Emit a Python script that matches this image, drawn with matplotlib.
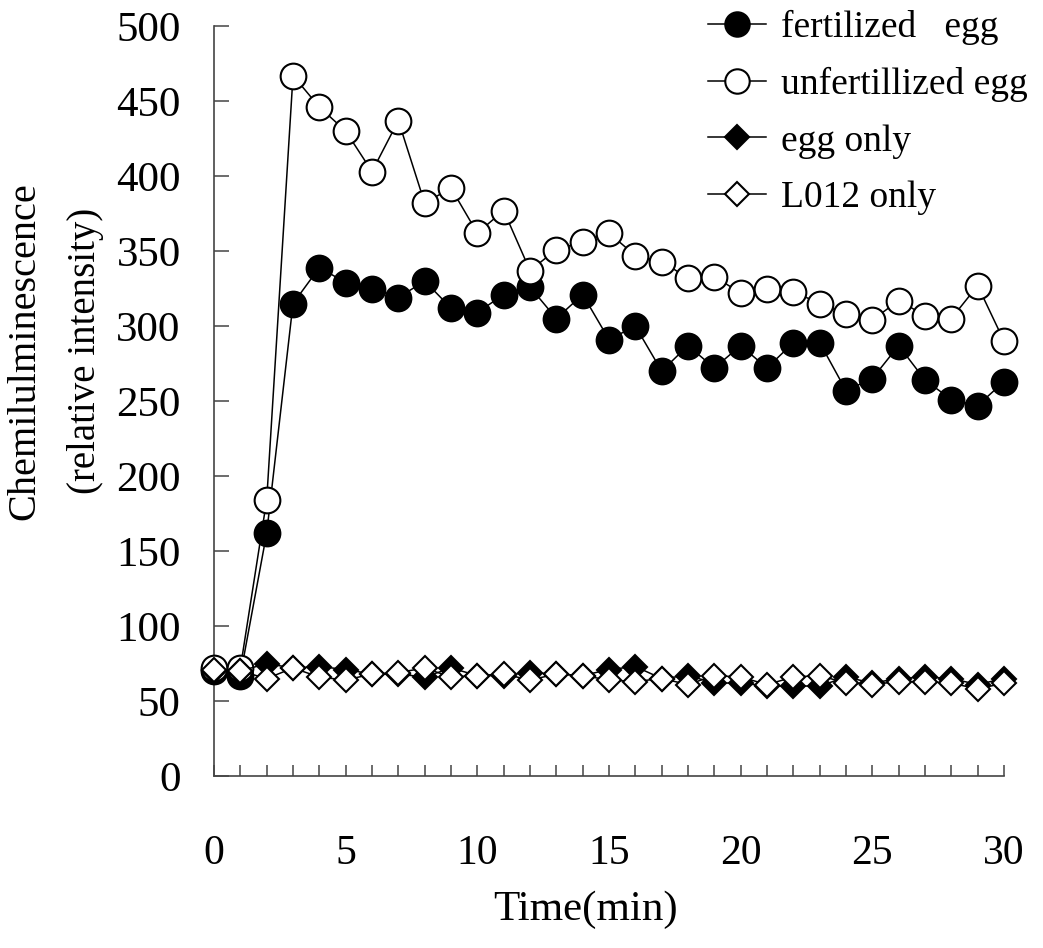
import matplotlib
matplotlib.use("Agg")
import matplotlib.pyplot as plt
from matplotlib.ticker import MultipleLocator

plt.rcParams['font.family'] = ['Liberation Serif', 'DejaVu Serif']

# 時間 (min)
time = list(range(0, 31))

fertilized = [70, 67, 162, 315, 339, 329, 325, 319, 330, 312, 309, 321, 326, 305, 321,
              291, 300, 270, 287, 272, 287, 272, 289, 289, 257, 265, 287, 264, 251, 247, 263]
unfertilized = [72, 72, 184, 467, 446, 430, 403, 437, 382, 392, 362, 377, 337, 351, 356,
                362, 347, 343, 332, 333, 322, 325, 323, 315, 308, 304, 317, 307, 305, 327, 290]
egg_only = [70, 70, 75, 72, 73, 71, 68, 68, 66, 72, 67, 67, 69, 68, 67,
            71, 73, 65, 67, 62, 62, 60, 60, 60, 66, 62, 65, 66, 65, 61, 65]
l012_only = [71, 70, 65, 72, 66, 64, 68, 69, 72, 66, 67, 68, 64, 68, 67,
             64, 63, 65, 61, 67, 66, 61, 66, 67, 62, 61, 63, 63, 62, 58, 62]

labels = ["fertilized   egg", "unfertillized egg", "egg only", "L012 only"]

fig = plt.figure(figsize=(10.43, 9.48), dpi=100)
ax = fig.add_axes([0.2052, 0.1814, 0.7574, 0.7911])

lw = 1.1
mew = 1.5
ax.plot(time, fertilized, color='black', lw=lw, marker='o', markersize=18.5,
        markerfacecolor='black', markeredgecolor='black', markeredgewidth=mew,
        clip_on=False, zorder=3, label=labels[0])
ax.plot(time, unfertilized, color='black', lw=lw, marker='o', markersize=18.5,
        markerfacecolor='white', markeredgecolor='black', markeredgewidth=mew,
        clip_on=False, zorder=4, label=labels[1])
ax.plot(time, egg_only, color='black', lw=lw, marker='D', markersize=12.5,
        markerfacecolor='black', markeredgecolor='black', markeredgewidth=mew,
        clip_on=False, zorder=5, label=labels[2])
ax.plot(time, l012_only, color='black', lw=lw, marker='D', markersize=12.5,
        markerfacecolor='white', markeredgecolor='black', markeredgewidth=mew,
        clip_on=False, zorder=6, label=labels[3])

ax.set_xlim(0, 30)
ax.set_ylim(0, 500)
ax.xaxis.set_major_locator(MultipleLocator(5))
ax.xaxis.set_minor_locator(MultipleLocator(1))
ax.yaxis.set_major_locator(MultipleLocator(50))

for s in ['top', 'right']:
    ax.spines[s].set_visible(False)
for s in ['left', 'bottom']:
    ax.spines[s].set_color('#444444')
    ax.spines[s].set_linewidth(1.2)

ax.tick_params(axis='x', which='both', direction='in', length=8, width=1.1,
               color='#444444', labelsize=30, pad=42)
ax.tick_params(axis='y', which='major', direction='in', length=11, width=1.1,
               color='#444444', labelsize=31, pad=24)

fig.text(0.024, 0.63, "Chemilulminescence", rotation=90, fontsize=29,
         ha='center', va='center')
fig.text(0.082, 0.63, "(relative intensity)", rotation=90, fontsize=28,
         ha='center', va='center')
fig.text(0.561, 0.04, "Time(min)", fontsize=31, ha='center', va='center')

fig.legend(loc='upper right', bbox_to_anchor=(1.0, 1.005), frameon=False,
           fontsize=27, markerscale=0.95, handlelength=1.55, handletextpad=0.4,
           labelspacing=0.58, borderaxespad=0.0)

fig.savefig("out.png", dpi=100)
